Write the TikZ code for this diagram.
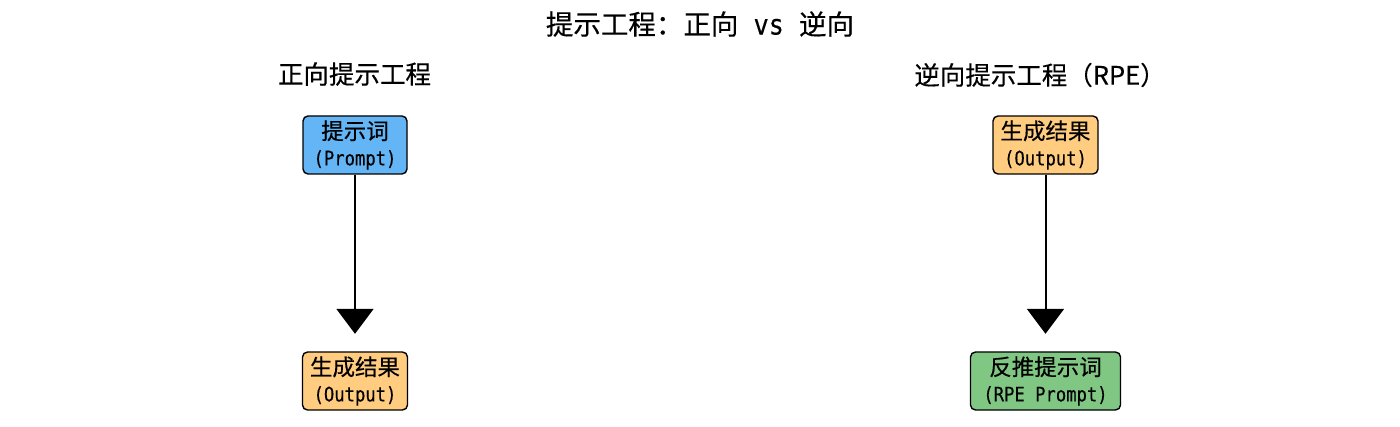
\documentclass[tikz,border=0pt]{standalone}
\usepackage{fontspec}
\usepackage{graphicx}
\setmainfont{Noto Sans CJK SC}[FakeBold=0.3]
\newfontfamily\monof{DejaVu Sans Mono}[FakeBold=0.3]
\usetikzlibrary{arrows.meta}
\definecolor{boxblue}{HTML}{64B5F6}
\definecolor{boxorange}{HTML}{FFCC80}
\definecolor{boxgreen}{HTML}{81C784}
\tikzset{
  stepbox/.style={draw=black, line width=1.4pt, rounded corners=5pt, minimum height=58pt, inner sep=0pt, align=center, font=\fontsize{22.5}{26}\selectfont},
  flowarrow/.style={line width=2pt, -{Triangle[length=25pt,width=37pt]}, shorten >=17.5pt},
}
\newcommand{\boxtext}[2]{#1\\\scalebox{0.86}[1]{\monof\fontsize{20}{26}\selectfont #2}}
\begin{document}
\begin{tikzpicture}[x=1pt,y=-1pt]
\useasboundingbox[fill=white] (0,0) rectangle (1400,427);
\node (title) at (700,24) {\fontsize{27.5}{30}\selectfont 提示工程：正向\scalebox{0.9}[1]{\monof\fontsize{28}{30}\selectfont\ vs\ }逆向};
\node (hleft) at (354.5,74) {\fontsize{25.5}{28}\selectfont 正向提示工程};
\node (hright) at (1040,75) {\fontsize{25.5}{28}\selectfont 逆向提示工程（RPE）};

\node[stepbox, fill=boxblue, minimum width=104pt] (lp) at (355,145) {\boxtext{提示词}{(Prompt)}};
\node[stepbox, fill=boxorange, minimum width=105pt] (lo) at (355,381) {\boxtext{生成结果}{(Output)}};
\node[stepbox, fill=boxorange, minimum width=105pt] (ro) at (1045.5,145) {\boxtext{生成结果}{(Output)}};
\node[stepbox, fill=boxgreen, minimum width=150pt] (rp) at (1045.5,381) {\boxtext{反推提示词}{(RPE Prompt)}};

\draw[flowarrow] (lp.south) -- (lo.north);
\draw[flowarrow] (ro.south) -- (rp.north);
\end{tikzpicture}
\end{document}
